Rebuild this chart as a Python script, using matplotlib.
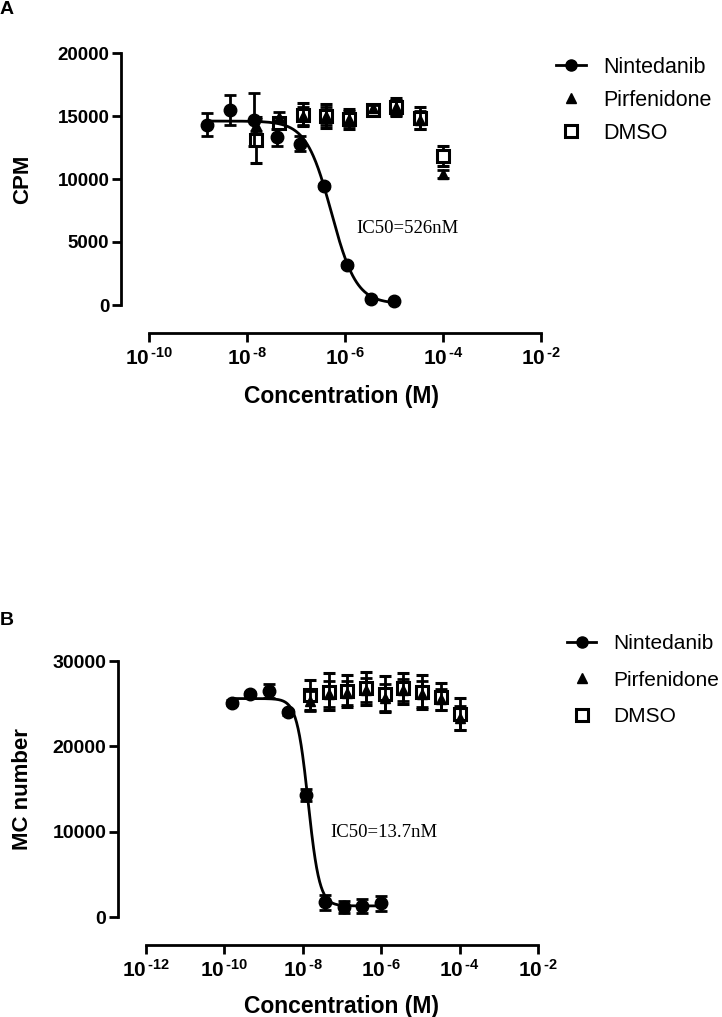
import numpy as np
import matplotlib
matplotlib.use('Agg')
import matplotlib.pyplot as plt
from matplotlib.lines import Line2D
from matplotlib.ticker import FixedLocator, FuncFormatter, NullLocator

plt.rcParams['font.family'] = ['Liberation Sans', 'DejaVu Sans']
plt.rcParams['mathtext.fontset'] = 'custom'
plt.rcParams['mathtext.rm'] = 'Liberation Sans:bold'
plt.rcParams['mathtext.default'] = 'rm'

# ---- panel A (CPM) ----
a_nin_conc = [1.52e-9, 4.57e-9, 1.37e-8, 4.12e-8, 1.23e-7, 3.7e-7, 1.11e-6, 3.33e-6, 1e-5]
a_nin = [14300, 15500, 14700, 13300, 12800, 9450, 3180, 480, 320]
a_nin_err = [900, 1200, 2100, 700, 600, 150, 150, 100, 100]
a_ctl_conc = [1.52e-8, 4.57e-8, 1.37e-7, 4.12e-7, 1.23e-6, 3.7e-6, 1.11e-5, 3.33e-5, 1e-4]
a_pir = [14300, 14900, 15000, 15000, 14800, 15600, 15700, 14700, 10400]
a_pir_err = [500, 400, 700, 700, 600, 300, 600, 700, 300]
a_dmso = [13100, 14450, 15100, 15000, 14750, 15500, 15700, 14850, 11800]
a_dmso_err = [1800, 400, 900, 950, 800, 300, 700, 900, 800]
# fit: top, bottom, IC50, hill
a_fit = (14600, 100, 5.26e-7, 1.7)

# ---- panel B (MC number) ----
b_nin_conc = [1.52e-10, 4.57e-10, 1.37e-9, 4.12e-9, 1.23e-8, 3.7e-8, 1.11e-7, 3.33e-7, 1e-6]
b_nin = [25100, 26100, 26500, 24000, 14300, 1700, 1200, 1300, 1600]
b_nin_err = [300, 300, 800, 300, 700, 900, 700, 800, 900]
b_ctl_conc = [1.52e-8, 4.57e-8, 1.37e-7, 4.12e-7, 1.23e-6, 3.7e-6, 1.11e-5, 3.33e-5, 1e-4]
b_pir = [25300, 26100, 26300, 26600, 25700, 26600, 26100, 25500, 23300]
b_pir_err = [1200, 1500, 1400, 1400, 1600, 1300, 1500, 1200, 1400]
b_dmso = [26000, 26400, 26500, 26800, 26100, 26800, 26400, 25800, 23800]
b_dmso_err = [1800, 2200, 1900, 1900, 2100, 1800, 2000, 1600, 1900]
b_fit = (25600, 1300, 1.37e-8, 3.0)

W, H = 722, 1017


def logistic(x, top, bottom, ic50, hill):
    return bottom + (top - bottom) / (1 + (x / ic50) ** hill)


def exp_label(v, p):
    e = round(np.log10(v))
    return r'$10^{\,\text{-}%d}$' % abs(e)


def draw_panel(ax, nin_c, nin, nin_e, ctl_c, pir, pir_e, dm, dm_e, fit,
               xmin, xmax, ymax, ystep, ylabel, ic_text, ic_pos, ytick_fs):
    ax.set_xscale('log')
    ax.set_xlim(10.0 ** xmin, 10.0 ** xmax)
    ax.set_ylim(0, ymax)
    ek = dict(capsize=4, elinewidth=2, capthick=2, ecolor='black', clip_on=False)
    ax.errorbar(ctl_c, dm, yerr=dm_e, fmt='s', ms=8, mfc='white', mec='black',
                mew=2.2, zorder=3, **ek)
    ax.errorbar(ctl_c, pir, yerr=pir_e, fmt='^', ms=7, mfc='black', mec='black',
                zorder=4, **ek)
    ax.errorbar(nin_c, nin, yerr=nin_e, fmt='o', ms=9, mfc='black', mec='black',
                zorder=5, **ek)
    xs = np.logspace(np.log10(nin_c[0]), np.log10(nin_c[-1]), 300)
    ax.plot(xs, logistic(xs, *fit), color='black', lw=2, zorder=5)

    for s in ['top', 'right']:
        ax.spines[s].set_visible(False)
    ax.spines['left'].set_position(('outward', 20))
    ax.spines['bottom'].set_position(('outward', 20))
    ax.spines['left'].set_bounds(0, ymax)
    ax.spines['bottom'].set_bounds(10.0 ** xmin, 10.0 ** xmax)
    for s in ['left', 'bottom']:
        ax.spines[s].set_linewidth(2)
    ax.yaxis.set_major_locator(FixedLocator(np.arange(0, ymax + 1, ystep)))
    ax.xaxis.set_major_locator(FixedLocator([10.0 ** e for e in range(xmin, xmax + 1, 2)]))
    ax.xaxis.set_minor_locator(NullLocator())
    ax.xaxis.set_major_formatter(FuncFormatter(exp_label))
    ax.tick_params(axis='both', width=2, length=6.5, pad=2)
    ax.tick_params(axis='y', labelsize=ytick_fs)
    ax.tick_params(axis='x', labelsize=15, pad=4)
    for t in ax.get_yticklabels():
        t.set_fontweight('bold')
    ax.set_ylabel(ylabel, fontsize=16, fontweight='bold')
    ax.set_xlabel('Concentration (M)', fontsize=16.5, fontweight='bold')
    ax.text(ic_pos[0], ic_pos[1], ic_text, transform=ax.transAxes, family='Liberation Serif',
            fontsize=13.5, va='center', ha='left')


fig = plt.figure(figsize=(W / 100, H / 100), dpi=100)

axA = fig.add_axes([149 / W, 1 - 305 / H, 392 / W, 252 / H])
draw_panel(axA, a_nin_conc, a_nin, a_nin_err, a_ctl_conc, a_pir, a_pir_err, a_dmso, a_dmso_err,
           a_fit, -10, -2, 20000, 5000, 'CPM', 'IC50=526nM', (0.528, 0.302), 13.5)
axA.yaxis.set_label_coords(-0.296, 0.5)
axA.xaxis.set_label_coords(0.491, -0.317)

axB = fig.add_axes([146 / W, 1 - 917 / H, 392 / W, 256 / H])
draw_panel(axB, b_nin_conc, b_nin, b_nin_err, b_ctl_conc, b_pir, b_pir_err, b_dmso, b_dmso_err,
           b_fit, -12, -2, 30000, 10000, 'MC number', 'IC50=13.7nM', (0.469, 0.332), 14)
axB.yaxis.set_label_coords(-0.288, 0.5)
axB.xaxis.set_label_coords(0.5, -0.305)

handles = [Line2D([], [], color='black', lw=2, marker='o', ms=8),
           Line2D([], [], color='black', lw=0, marker='^', ms=7),
           Line2D([], [], color='black', lw=0, marker='s', ms=8, mfc='white', mew=2.2)]
labels = ['Nintedanib', 'Pirfenidone', 'DMSO']
fig.legend(handles, labels, loc='upper left', bbox_to_anchor=(556 / W, 1 - 57 / H),
           frameon=False, fontsize=15.5, borderpad=0, borderaxespad=0,
           handlelength=1.4, handletextpad=0.8, labelspacing=0.55)
fig.legend(handles, labels, loc='upper left', bbox_to_anchor=(567 / W, 1 - 634 / H),
           frameon=False, fontsize=15, borderpad=0, borderaxespad=0,
           handlelength=1.4, handletextpad=0.8, labelspacing=0.85)

fig.text(0 / W, 1 - 1 / H, 'A', fontsize=14, fontweight='bold', va='top', ha='left')
fig.text(0 / W, 1 - 612 / H, 'B', fontsize=14, fontweight='bold', va='top', ha='left')

fig.savefig('out.png', dpi=100)
